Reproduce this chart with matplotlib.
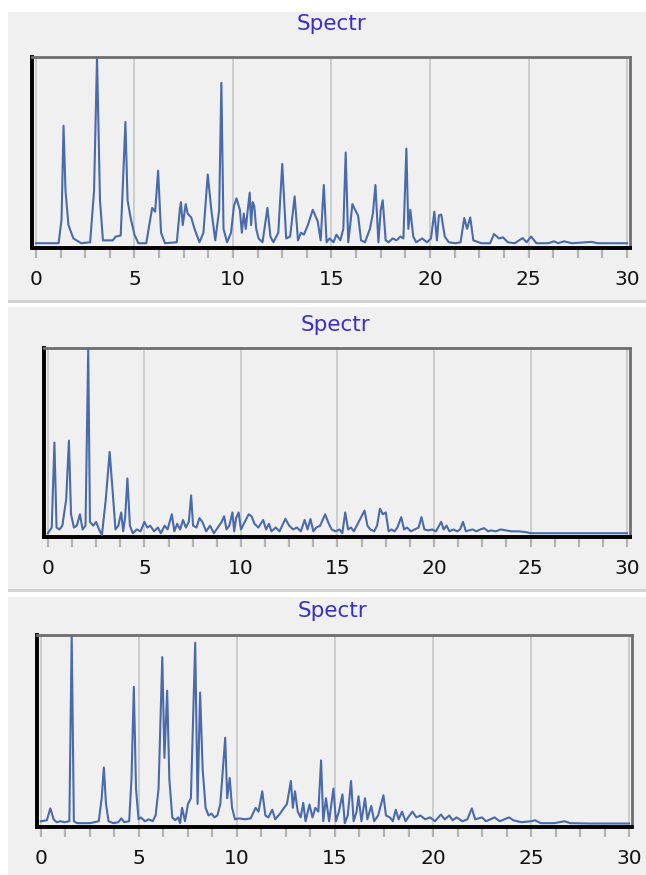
import matplotlib
matplotlib.use("Agg")
import matplotlib.pyplot as plt
from matplotlib.patches import Rectangle

# ---------------- data ----------------
title_text = "Spectr"
xticks = [0, 5, 10, 15, 20, 25, 30]
xtick_labels = ["0", "5", "10", "15", "20", "25", "30"]

x1 = [0, 1.15, 1.3, 1.4, 1.5, 1.65, 1.9, 2.3, 2.75, 2.95, 3.1, 3.25, 3.4, 3.9, 4.05, 4.3,
      4.4, 4.54, 4.65, 4.8, 5.0, 5.2, 5.6, 5.75, 5.9, 6.05, 6.2, 6.35, 6.55, 7.15, 7.3, 7.36,
      7.45, 7.6, 7.7, 7.88, 8.05, 8.3, 8.5, 8.72, 8.9, 9.1, 9.3, 9.41, 9.52, 9.7, 9.9, 10.05,
      10.18, 10.35, 10.45, 10.55, 10.65, 10.75, 10.85, 10.92, 11.0, 11.08, 11.18, 11.3, 11.5,
      11.75, 11.9, 12.05, 12.3, 12.5, 12.7, 12.9, 13.13, 13.3, 13.45, 13.6, 13.8, 14.05, 14.3,
      14.45, 14.61, 14.75, 14.9, 15.1, 15.25, 15.45, 15.6, 15.72, 15.85, 15.95, 16.06, 16.2,
      16.35, 16.5, 16.7, 16.95, 17.1, 17.23, 17.38, 17.5, 17.6, 17.75, 17.9, 18.1, 18.3, 18.5,
      18.65, 18.8, 18.9, 19.0, 19.15, 19.3, 19.6, 19.85, 20.05, 20.22, 20.35, 20.45, 20.57,
      20.75, 20.95, 21.3, 21.55, 21.74, 21.88, 22.04, 22.2, 22.6, 23.05, 23.25, 23.5, 23.7,
      23.95, 24.3, 24.7, 24.9, 25.13, 25.4, 26.0, 26.3, 26.5, 26.8, 27.2, 28.2, 28.5, 30]
y1 = [2.5, 2.5, 15, 64, 30, 12, 5, 2.5, 3, 30, 100, 25, 4, 4, 6, 6.5,
      30, 66, 25, 16, 7, 2.5, 2.5, 12, 21, 19, 40.5, 8, 2.5, 3, 20, 24,
      12, 23, 18, 16, 10, 3, 8, 38.5, 20, 4, 20, 86.5, 10, 3, 8, 22,
      26, 20, 8, 18, 10, 20, 29, 12, 24, 22, 10, 5, 3,
      21, 6, 3, 8, 44, 5, 6, 27, 4, 8, 7, 12, 20, 14,
      4, 33, 3, 5, 3, 7, 4, 10, 50, 3, 12, 23, 20,
      17, 4, 3, 10, 18, 33, 3, 20, 25, 4, 3, 5, 4, 6,
      5, 52, 10, 20, 6, 3, 5, 3, 5, 19, 4, 17, 17.5,
      6, 3, 2.5, 3, 15.7, 10, 16, 4, 2.5, 2.5, 7.3, 5, 5.6,
      3, 2.5, 5.2, 3, 6, 2.5, 2.5, 3.5, 2.5, 3.5, 2.5, 3.2, 2.5, 2.5]

x2 = [0, 0.2, 0.34, 0.45, 0.6, 0.75, 0.95, 1.09, 1.2, 1.35, 1.5, 1.66, 1.8, 1.95, 2.09, 2.18,
      2.35, 2.5, 2.65, 2.8, 3.0, 3.2, 3.35, 3.5, 3.65, 3.8, 3.9, 4.0, 4.12, 4.25, 4.4, 4.6,
      4.8, 5.0, 5.15, 5.3, 5.5, 5.7, 5.85, 6.05, 6.2, 6.42, 6.55, 6.7, 6.85, 7.0, 7.15, 7.3,
      7.42, 7.52, 7.7, 7.85, 8.0, 8.2, 8.4, 8.6, 8.8, 9.0, 9.13, 9.25, 9.4, 9.56, 9.65, 9.75,
      9.88, 10.0, 10.2, 10.4, 10.55, 10.7, 10.9, 11.15, 11.3, 11.45, 11.58, 11.8, 12.0, 12.3,
      12.5, 12.7, 12.9, 13.1, 13.3, 13.45, 13.6, 13.75, 13.9, 14.1, 14.36, 14.55, 14.7, 14.9,
      15.1, 15.25, 15.4, 15.55, 15.7, 15.85, 16.0, 16.2, 16.4, 16.55, 16.7, 16.9, 17.05, 17.2,
      17.35, 17.5, 17.65, 17.8, 17.95, 18.1, 18.3, 18.45, 18.6, 18.8, 19.0, 19.2, 19.35, 19.5,
      19.7, 19.9, 20.1, 20.37, 20.5, 20.65, 20.8, 21.0, 21.2, 21.35, 21.5, 21.65, 21.8, 22.0,
      22.2, 22.4, 22.6, 22.8, 22.95, 23.2, 23.45, 23.74, 24.0, 24.4, 24.8, 25.0, 26.0, 28.0, 30]
y2 = [2, 5, 50, 5, 4, 6, 20, 51, 12, 5, 6, 12, 4, 6, 99.5, 8,
      6, 8, 4, 1, 20, 45, 25, 4, 6, 13, 3, 10, 31, 6, 2, 4,
      3, 8, 5, 6, 3, 5, 2, 6, 4, 12, 3, 7, 4, 9, 5, 8,
      22, 6, 5, 10, 8, 3, 6, 2, 5, 8, 11, 4, 6, 13, 3, 10,
      13, 4, 8, 12, 11, 7, 5, 9, 4, 7, 3, 5, 3, 9.6,
      6, 4, 5, 3, 9, 4, 9.5, 3, 5, 6, 12, 7, 4, 3,
      4, 2, 13, 4, 5, 3, 6, 10, 14, 6, 4, 3, 6, 15,
      12, 13, 3, 4, 3, 5, 10.5, 4, 5, 3, 4, 5, 10.5, 4,
      3.5, 4, 3, 8, 4, 6, 3, 4, 3, 4, 8, 3, 3.5, 4,
      3, 4, 4.7, 3, 3.5, 3, 4, 3.5, 3, 3, 2.5, 2, 2, 2, 2]

x3 = [0, 0.3, 0.48, 0.65, 0.8, 1.0, 1.2, 1.45, 1.57, 1.68, 1.85, 2.5, 2.95, 3.1, 3.21, 3.32,
      3.45, 3.7, 3.95, 4.1, 4.25, 4.5, 4.62, 4.74, 4.85, 4.98, 5.1, 5.3, 5.5, 5.7, 5.85, 6.0,
      6.19, 6.3, 6.44, 6.55, 6.7, 6.85, 7.0, 7.1, 7.2, 7.35, 7.5, 7.65, 7.87, 7.99, 8.12, 8.25,
      8.4, 8.55, 8.7, 8.85, 9.0, 9.15, 9.4, 9.5, 9.63, 9.75, 9.9, 10.1, 10.4, 10.7, 10.95, 11.1,
      11.29, 11.45, 11.6, 11.8, 11.95, 12.2, 12.4, 12.55, 12.75, 12.85, 12.96, 13.1, 13.25,
      13.38, 13.5, 13.7, 13.85, 14.0, 14.15, 14.29, 14.4, 14.54, 14.7, 14.92, 15.05, 15.2,
      15.38, 15.5, 15.65, 15.82, 15.95, 16.1, 16.2, 16.35, 16.53, 16.65, 16.85, 17.0, 17.2,
      17.47, 17.6, 17.8, 17.95, 18.1, 18.25, 18.42, 18.6, 18.8, 18.95, 19.15, 19.36, 19.6,
      19.85, 20.1, 20.4, 20.6, 20.83, 21.0, 21.2, 21.5, 21.75, 21.98, 22.15, 22.5, 22.7, 23.14,
      23.4, 23.88, 24.1, 24.5, 25.0, 25.2, 25.5, 26.2, 26.7, 27.0, 28.0, 30]
y3 = [3, 3.5, 9.7, 4, 2.5, 3, 2.5, 3, 100, 3, 2, 2, 3, 15, 31, 12,
      3, 2, 2.5, 4.5, 2.5, 3, 25, 73, 20, 4, 5, 3, 4, 3, 6, 20,
      88.5, 36, 71, 25, 5, 3.5, 5, 2, 10, 3, 12, 15, 96, 12, 70, 30,
      10, 6, 7, 5, 6, 12, 46.5, 15, 25.5, 10, 4, 4.5, 4, 4.5, 10, 8,
      18.6, 6, 5, 9, 4, 7, 10, 12, 24, 10, 18.6, 8, 5,
      12.6, 3, 11.7, 5, 10, 8, 34.7, 3, 15, 3, 20, 3, 8,
      17, 2, 6, 24, 3, 8, 16, 3, 15, 4, 11, 3, 6,
      16.5, 6, 5, 3, 9, 4, 8, 3, 6, 8, 5, 6, 4,
      5, 3, 6.5, 4, 6, 3.5, 5, 3, 4, 9.7, 4, 5, 3, 5,
      3, 5, 3.5, 2.5, 3, 3.5, 2, 2, 3, 2, 1.8, 1.8]

series = [(x1, y1), (x2, y2), (x3, y3)]

# ---------------- layout (pixels) ----------------
W, H = 646, 875
axes_px = [(32, 630, 57, 248), (44, 630, 348, 537), (37, 632, 635, 827)]
panels_px = [(8, 12, 303), (8, 307, 592), (8, 597, 875)]
title_px = [(331, 30), (335, 331), (332, 617)]

fig = plt.figure(figsize=(W / 100, H / 100), dpi=100, facecolor="white")

def fx(px):
    return px / W

def fy(py):
    return 1 - py / H

for (l, t, b) in panels_px:
    fig.patches.append(Rectangle((fx(l), fy(b)), 1 - fx(l), fy(t) - fy(b),
                                 transform=fig.transFigure, facecolor="#f0f0f0",
                                 edgecolor="none", zorder=-10))
    if b < H:
        fig.patches.append(Rectangle((fx(l), fy(b)), 1 - fx(l), 3 / H,
                                     transform=fig.transFigure, facecolor="#d2d2d2",
                                     edgecolor="none", zorder=-10))

for i, ((xs, ys), (l, r, t, b)) in enumerate(zip(series, axes_px)):
    ax = fig.add_axes([fx(l), fy(b), fx(r) - fx(l), fy(t) - fy(b)])
    ax.set_facecolor("#f0f0f0")
    ax.plot(xs, ys, color="#4a6aab", lw=1.5, zorder=3)
    ax.set_xlim(-0.2, 30.15)
    ax.set_ylim(0, 100)
    ax.set_xticks(xticks)
    ax.set_xticklabels(xtick_labels, fontsize=14.5, family="DejaVu Sans", color="#111111")
    ax.set_xticks([k * 1.25 for k in range(25)], minor=True)
    ax.tick_params(axis="x", which="both", direction="out", length=7, width=1.6,
                   color="#b4b4b4", pad=8.5)
    ax.set_yticks([])
    ax.grid(axis="x", which="major", color="#cdcdcd", lw=1.4, zorder=1)
    for s in ("left", "bottom"):
        ax.spines[s].set_color("black")
        ax.spines[s].set_linewidth(2.8)
    for s in ("top", "right"):
        ax.spines[s].set_color("#6e6e6e")
        ax.spines[s].set_linewidth(2.0)
    tx, ty = title_px[i]
    fig.text(fx(tx), fy(ty), title_text, ha="center", va="baseline",
             fontsize=15.5, color="#3a30c8", family="DejaVu Sans")

fig.savefig("out.png", dpi=100, facecolor="white")
